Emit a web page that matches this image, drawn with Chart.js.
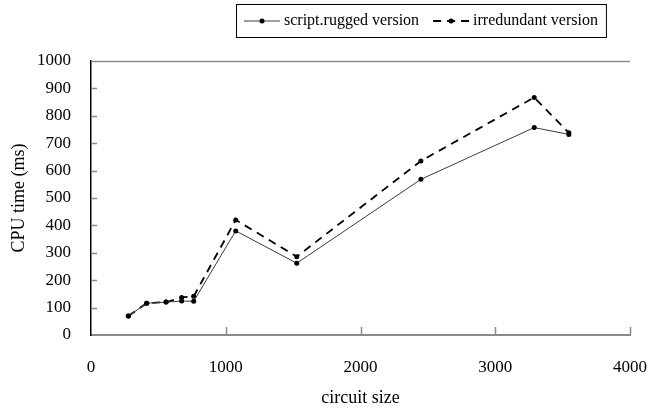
<!DOCTYPE html>
<html>
<head>
<meta charset="utf-8">
<script src="https://cdn.jsdelivr.net/npm/chart.js@4/dist/chart.umd.min.js"></script>
<style>
  html, body { margin: 0; padding: 0; background: #fff; }
  #wrap { width: 654px; height: 409px; }
</style>
</head>
<body>
<div id="wrap"><canvas id="c" width="654" height="409"></canvas></div>
<script>
const circuitSizes = [277, 413, 557, 673, 762, 1074, 1527, 2448, 3289, 3546]
const scriptRugged = [69, 116, 120, 124, 123, 380, 262, 568, 757, 732]
const irredundant = [69, 116, 120, 137, 141, 420, 286, 635, 867, 738]
const xTicks = [0, 1000, 2000, 3000, 4000]
const yTicks = [0, 100, 200, 300, 400, 500, 600, 700, 800, 900, 1000]

const FONT = 'Liberation Serif, Times New Roman, serif'

const pts = vals => circuitSizes.map((x, i) => ({ x, y: vals[i] }))

// draws the short inward ticks and the grey top line
const innerTicks = {
  id: 'innerTicks',
  afterDraw(chart) {
    const { ctx, chartArea: a, scales } = chart
    ctx.save()
    ctx.strokeStyle = '#8a8a8a'
    ctx.lineWidth = 1.5
    yTicks.forEach(v => {
      if (v === 0) return
      const y = Math.round(scales.y.getPixelForValue(v)) + 0.5
      ctx.beginPath()
      ctx.moveTo(a.left, y)
      ctx.lineTo(v === 1000 ? a.right : a.left + 6, y)
      ctx.stroke()
    })
    xTicks.forEach(v => {
      if (v === 0) return
      const x = Math.round(scales.x.getPixelForValue(v)) + 0.5
      ctx.beginPath()
      ctx.moveTo(x, a.bottom)
      ctx.lineTo(x, a.bottom - 8)
      ctx.stroke()
    })
    ctx.restore()
  }
}

// boxed legend like the original
const boxLegend = {
  id: 'boxLegend',
  afterDraw(chart) {
    const { ctx } = chart
    const left = 236, top = 4, h = 33, sample = 36, gap = 4, between = 14
    ctx.save()
    ctx.font = '16px ' + FONT
    let w = 8
    chart.data.datasets.forEach((ds, i) => {
      w += sample + gap + ctx.measureText(ds.label).width + (i ? 0 : between)
    })
    w += 8
    ctx.strokeStyle = '#000'
    ctx.lineWidth = 1
    ctx.strokeRect(left + 0.5, top + 0.5, w, h)
    let x = left + 8
    const cy = top + h / 2 + 0.5
    chart.data.datasets.forEach(ds => {
      ctx.strokeStyle = ds.borderColor
      ctx.lineWidth = ds.borderWidth
      ctx.setLineDash(ds.borderDash || [])
      ctx.beginPath()
      ctx.moveTo(x, cy)
      ctx.lineTo(x + sample, cy)
      ctx.stroke()
      ctx.setLineDash([])
      ctx.fillStyle = '#000'
      ctx.beginPath()
      ctx.arc(x + sample / 2, cy, 2.5, 0, Math.PI * 2)
      ctx.fill()
      x += sample + gap
      ctx.fillStyle = '#000'
      ctx.textBaseline = 'middle'
      ctx.fillText(ds.label, x, cy)
      x += ctx.measureText(ds.label).width + between
    })
    ctx.restore()
  }
}

new Chart(document.getElementById('c'), {
  type: 'line',
  data: {
    datasets: [
      {
        label: 'script.rugged version',
        data: pts(scriptRugged),
        borderColor: '#3a3a3a',
        borderWidth: 1,
        pointRadius: 2.5,
        pointBackgroundColor: '#000',
        pointBorderWidth: 0,
        tension: 0
      },
      {
        label: 'irredundant version',
        data: pts(irredundant),
        borderColor: '#000',
        borderWidth: 1.8,
        borderDash: [8, 6],
        pointRadius: 2.5,
        pointBackgroundColor: '#000',
        pointBorderWidth: 0,
        tension: 0
      }
    ]
  },
  options: {
    responsive: false,
    animation: false,
    layout: { padding: { top: 61, right: 24, left: 0, bottom: 0 } },
    plugins: { legend: { display: false }, tooltip: { enabled: false } },
    scales: {
      x: {
        type: 'linear',
        min: 0, max: 4000,
        afterBuildTicks: s => { s.ticks = xTicks.map(v => ({ value: v })) },
        afterFit: s => { s.height = 74; s.paddingRight = 0; s.paddingLeft = 0 },
        ticks: { color: '#000', font: { family: FONT, size: 17 }, padding: 22, maxRotation: 0, callback: v => String(v) },
        grid: { drawOnChartArea: false, drawTicks: false },
        border: { color: '#8a8a8a', width: 2 },
        title: { display: true, text: 'circuit size', color: '#000', font: { family: FONT, size: 18 }, padding: { top: 2, bottom: 0 } }
      },
      y: {
        min: 0, max: 1000,
        afterBuildTicks: s => { s.ticks = yTicks.map(v => ({ value: v })) },
        afterFit: s => { s.width = 91 },
        ticks: { color: '#000', font: { family: FONT, size: 17 }, padding: 20, callback: v => String(v) },
        grid: { drawOnChartArea: false, drawTicks: false },
        border: { color: '#000', width: 1.5 },
        title: { display: true, text: 'CPU time (ms)', color: '#000', font: { family: FONT, size: 18 }, padding: { top: 8, bottom: 0 } }
      }
    }
  },
  plugins: [innerTicks, boxLegend]
})
</script>
</body>
</html>
